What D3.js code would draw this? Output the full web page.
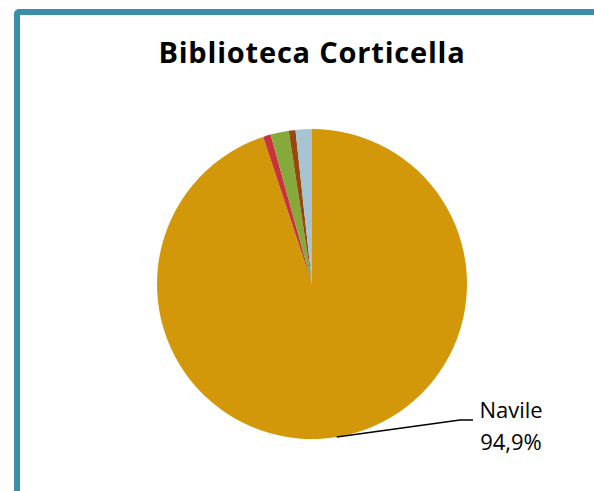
<!DOCTYPE html>
<html>
<head>
<meta charset="utf-8">
<script src="https://cdn.jsdelivr.net/npm/d3@7"></script>
<style>
  html, body { margin: 0; padding: 0; background: #fff; }
  svg { display: block; }
  text { font-variant-ligatures: none; }
</style>
</head>
<body>
<svg id="chart" width="594" height="491"></svg>
<script>
// Provenienza degli utenti per quartiere
const categories = ["Navile", "Porto-Saragozza", "San Donato-San Vitale", "Santo Stefano", "Savena"];
const values = [94.9, 0.8, 1.9, 0.7, 1.7];
const colors = ["#D3980A", "#C9333B", "#85A93B", "#98470F", "#A6C4D1"];
const title = "Biblioteca Corticella";
const labelled = ["Navile"];

const svg = d3.select("#chart");
const W = 594, H = 491;

// Frame: teal border open to the right and bottom
svg.append("rect")
  .attr("x", 17).attr("y", 12)
  .attr("width", W + 20).attr("height", H + 20)
  .attr("rx", 2)
  .attr("fill", "none")
  .attr("stroke", "#3A8FA6")
  .attr("stroke-width", 6);

svg.append("text")
  .attr("x", 312).attr("y", 63)
  .attr("text-anchor", "middle")
  .attr("font-family", "'Open Sans', Lato, sans-serif")
  .attr("font-weight", "bold")
  .attr("font-size", 29)
  .attr("letter-spacing", 0.8)
  .attr("fill", "#000")
  .text(title);

const cx = 312, cy = 284, r = 155;
const g = svg.append("g").attr("transform", `translate(${cx},${cy})`);

const data = categories.map((c, i) => ({ name: c, value: values[i], color: colors[i] }));
const pie = d3.pie().value(d => d.value).sort(null);
const arcs = pie(data);
const arc = d3.arc().innerRadius(0).outerRadius(r);

g.selectAll("path.slice")
  .data(arcs)
  .join("path")
  .attr("class", "slice")
  .attr("d", arc)
  .attr("fill", d => d.data.color);

// Leader line and label for the main slice
const fmt = v => d3.format(".1f")(v).replace(".", ",") + "%";
arcs.filter(a => labelled.includes(a.data.name)).forEach(a => {
  // anchor on the rim, lower right part of the slice
  const ang = Math.PI - 0.16;
  const p0 = [r * Math.sin(ang), -r * Math.cos(ang)];
  const p1 = [460 - cx, 420 - cy];
  const p2 = [473 - cx, 420 - cy];
  g.append("polyline")
    .attr("points", [p0, p1, p2].map(p => p.join(",")).join(" "))
    .attr("fill", "none")
    .attr("stroke", "#000")
    .attr("stroke-width", 1.5);
  const t = svg.append("text")
    .attr("text-anchor", "middle")
    .attr("font-family", "'Open Sans', Lato, sans-serif")
    .attr("font-size", 22)
    .attr("fill", "#000");
  t.append("tspan").attr("x", 511).attr("y", 418).text(a.data.name);
  t.append("tspan").attr("x", 511).attr("y", 450).text(fmt(a.data.value));
});
</script>
</body>
</html>
